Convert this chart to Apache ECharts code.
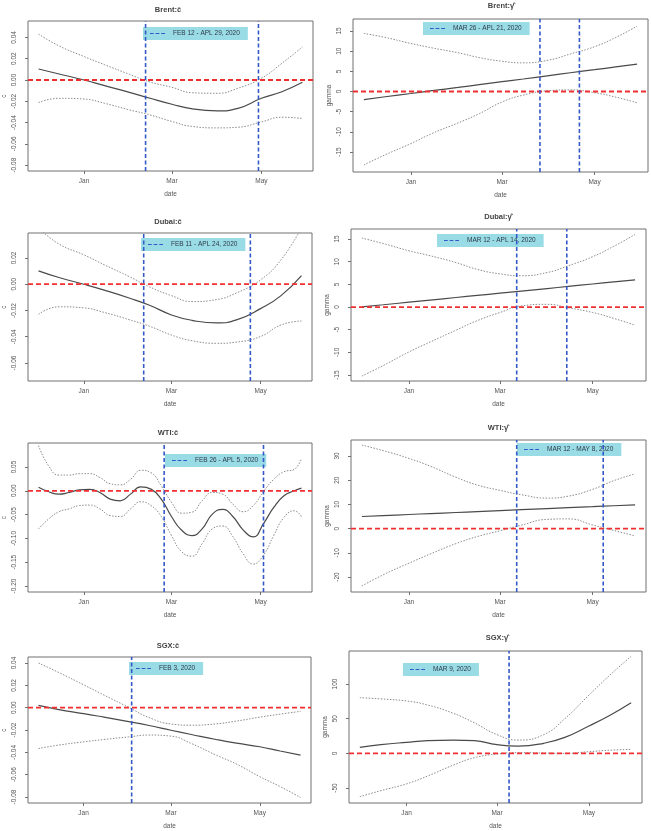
<!DOCTYPE html>
<html>
<head>
<meta charset="utf-8">
<script src="https://cdn.jsdelivr.net/npm/echarts@6/dist/echarts.min.js"></script>
<style>
  html, body { margin: 0; padding: 0; background: #fff; }
  #chart { width: 651px; height: 831px; }
</style>
</head>
<body>
<div id="chart"></div>
<script>
// x values are days counted from 1 Jan 2020
var days = [-31, -17, 0, 14, 31, 45, 60, 74, 91, 105, 121, 135, 149]
var wtiDays = [-31, -24, -17, -10, -3, 4, 11, 18, 25, 32, 39, 46, 53, 60, 67, 74, 81, 88, 95, 102, 109, 116, 123, 130, 137, 144, 149]
var tickDays = [0, 60, 121]
var tickNames = ['Jan', 'Mar', 'May']

// Brent
var brentCMean = [0.0103, 0.0056, 0.0, -0.0053, -0.0116, -0.0172, -0.0228, -0.0272, -0.029, -0.0266, -0.0172, -0.011, -0.0022]
var brentCUpper = [0.043, 0.032, 0.022, 0.0144, 0.0053, -0.0019, -0.0069, -0.012, -0.0125, -0.0078, 0.0016, 0.0157, 0.031]
var brentCLower = [-0.0212, -0.0172, -0.0179, -0.0219, -0.0281, -0.0328, -0.039, -0.0437, -0.045, -0.0444, -0.0394, -0.035, -0.0362]
var brentGMean = [-2.0, -1.3, -0.5, 0.2, 1.0, 1.7, 2.45, 3.1, 3.95, 4.65, 5.4, 6.1, 6.8]
var brentGUpper = [14.4, 13.4, 11.9, 10.8, 9.6, 8.4, 7.5, 7.1, 7.8, 9.3, 11.1, 13.4, 16.2]
var brentGLower = [-18.2, -15.7, -12.9, -10.4, -7.8, -5.5, -2.6, -0.9, 0.2, 0.4, -0.3, -1.4, -2.8]

// Dubai
var dubaiCMean = [0.0102, 0.0051, 0, -0.0045, -0.0105, -0.016, -0.0234, -0.0275, -0.0295, -0.027, -0.0186, -0.0087, 0.0065]
var dubaiCUpper = [0.043, 0.0306, 0.0224, 0.0148, 0.0059, -0.002, -0.0087, -0.0132, -0.0117, -0.0064, 0.0033, 0.0186, 0.043]
var dubaiCLower = [-0.0229, -0.0172, -0.018, -0.0215, -0.027, -0.032, -0.0387, -0.043, -0.045, -0.044, -0.0398, -0.031, -0.028]
var dubaiGMean = [0.05, 0.5, 1.07, 1.53, 2.1, 2.56, 3.05, 3.52, 4.08, 4.54, 5.08, 5.54, 6.0]
var dubaiGUpper = [15.2, 14.0, 12.4, 11.3, 9.8, 8.3, 7.3, 6.9, 7.6, 9.1, 11.1, 13.4, 16.0]
var dubaiGLower = [-15.2, -12.9, -9.9, -7.7, -5.1, -3.0, -1.2, 0.25, 0.6, -0.15, -1.2, -2.5, -4.0]

// WTI
var wtiCMean = [0.0076, -0.002, -0.007, -0.0035, 0.002, 0.0028, -0.0035, -0.0174, -0.021, -0.007, 0.0083, 0.0035, -0.0174, -0.054, -0.083, -0.094, -0.08, -0.049, -0.039, -0.054, -0.082, -0.097, -0.069, -0.035, -0.0104, 0.0, 0.0056]
var wtiCUpper = [0.095, 0.052, 0.033, 0.033, 0.036, 0.036, 0.028, 0.015, 0.0125, 0.024, 0.043, 0.038, 0.0104, -0.024, -0.047, -0.045, -0.021, -0.0035, -0.007, -0.028, -0.044, -0.031, -0.0014, 0.024, 0.04, 0.045, 0.068]
var wtiCLower = [-0.08, -0.059, -0.044, -0.038, -0.031, -0.03, -0.038, -0.052, -0.054, -0.038, -0.023, -0.031, -0.054, -0.094, -0.128, -0.1375, -0.111, -0.08, -0.074, -0.096, -0.132, -0.154, -0.135, -0.094, -0.056, -0.042, -0.054]
var wtiGMean = [5.0, 5.37, 5.83, 6.2, 6.65, 7.03, 7.43, 7.8, 8.25, 8.63, 9.05, 9.43, 9.8]
var wtiGUpper = [34.5, 32.2, 29, 25.8, 21.2, 18.0, 15.8, 14.0, 12.6, 13.4, 16.2, 19.8, 22.6]
var wtiGLower = [-23.7, -19.1, -14.3, -10.5, -6.2, -3.3, -0.9, 1.4, 3.8, 4.0, 1.5, -0.8, -3.0]

// SGX
var sgxCMean = [0.002, -0.0017, -0.0053, -0.0085, -0.0125, -0.016, -0.0202, -0.024, -0.0285, -0.0318, -0.035, -0.0388, -0.0425]
var sgxCUpper = [0.04, 0.0315, 0.0205, 0.0113, 0.0003, -0.0089, -0.0146, -0.0157, -0.0145, -0.012, -0.0085, -0.0058, -0.0033]
var sgxCLower = [-0.0366, -0.0335, -0.0306, -0.0285, -0.0262, -0.0245, -0.0255, -0.0321, -0.0425, -0.0505, -0.0618, -0.0707, -0.0805]
var sgxGMean = [8.7, 12.5, 15.9, 18.3, 19.2, 18.3, 12.5, 10.5, 14.5, 23, 39.4, 55, 73]
var sgxGUpper = [80.3, 78.5, 75.5, 69.7, 57.7, 44, 27, 19.2, 27, 50, 84, 113, 140]
var sgxGLower = [-62.5, -53.8, -44, -32.7, -17, -6.3, -1, 1, 0.5, 0, 2.4, 4.5, 5.8]

// break dates (vertical lines)
var brentCBreaks = [42, 119]
var brentGBreaks = [85, 111]
var dubaiCBreaks = [41, 114]
var dubaiGBreaks = [71, 104]
var wtiCBreaks = [55, 123]
var wtiGBreaks = [71, 128]
var sgxCBreaks = [33]
var sgxGBreaks = [68]

var cTicks = [-0.08, -0.06, -0.04, -0.02, 0, 0.02, 0.04]
var dubaiCTicks = [-0.06, -0.04, -0.02, 0, 0.02]
var wtiCTicks = [-0.2, -0.15, -0.1, -0.05, 0, 0.05]
var gTicks15 = [-15, -10, -5, 0, 5, 10, 15]
var wtiGTicks = [-20, -10, 0, 10, 20, 30]
var sgxGTicks = [-50, 0, 50, 100]

var panels = [
  { title: 'Brent:ĉ', yName: 'c', x: days, mean: brentCMean, upper: brentCUpper, lower: brentCLower, ticks: cTicks, dec: 2, breaks: brentCBreaks, label: 'FEB 12 - APL 29, 2020' },
  { title: 'Brent:γ̂', yName: 'gamma', x: days, mean: brentGMean, upper: brentGUpper, lower: brentGLower, ticks: gTicks15, dec: 0, breaks: brentGBreaks, label: 'MAR 26 - APL 21, 2020' },
  { title: 'Dubai:ĉ', yName: 'c', x: days, mean: dubaiCMean, upper: dubaiCUpper, lower: dubaiCLower, ticks: dubaiCTicks, dec: 2, breaks: dubaiCBreaks, label: 'FEB 11 - APL 24, 2020' },
  { title: 'Dubai:γ̂', yName: 'gamma', x: days, mean: dubaiGMean, upper: dubaiGUpper, lower: dubaiGLower, ticks: gTicks15, dec: 0, breaks: dubaiGBreaks, label: 'MAR 12 - APL 14, 2020' },
  { title: 'WTI:ĉ', yName: 'c', x: wtiDays, mean: wtiCMean, upper: wtiCUpper, lower: wtiCLower, ticks: wtiCTicks, dec: 2, breaks: wtiCBreaks, label: 'FEB 26 - APL 5, 2020' },
  { title: 'WTI:γ̂', yName: 'gamma', x: days, mean: wtiGMean, upper: wtiGUpper, lower: wtiGLower, ticks: wtiGTicks, dec: 0, breaks: wtiGBreaks, label: 'MAR 12 - MAY 8, 2020' },
  { title: 'SGX:ĉ', yName: 'c', x: days, mean: sgxCMean, upper: sgxCUpper, lower: sgxCLower, ticks: cTicks, dec: 2, breaks: sgxCBreaks, label: 'FEB 3, 2020' },
  { title: 'SGX:γ̂', yName: 'gamma', x: days, mean: sgxGMean, upper: sgxGUpper, lower: sgxGLower, ticks: sgxGTicks, dec: 0, breaks: sgxGBreaks, label: 'MAR 9, 2020' }
]

// plot boxes, axis ranges, legend and title spots, in page pixels
var X_RANGE = [-38.2, 156.2]
var layout = [
  { grid: [23, 21, 290, 150], y: [-0.0855, 0.0554], legend: [143, 27], title: [168, 10] },
  { grid: [353, 19, 295, 153], y: [-19.96, 17.97], legend: [423, 22], title: [501, 6] },
  { grid: [25, 233, 287, 148], y: [-0.0737, 0.039], legend: [141, 238], title: [168, 222] },
  { grid: [351, 229, 295, 152], y: [-16.3, 17.2], legend: [437, 234], title: [498, 217] },
  { grid: [25, 443, 287, 149], y: [-0.2126, 0.1004], legend: [165, 454], title: [168, 433] },
  { grid: [351, 440, 295, 152], y: [-26.2, 36.6], legend: [517, 443], title: [498, 428] },
  { grid: [26, 657, 285, 146], y: [-0.0854, 0.0454], legend: [129, 662], title: [168, 646] },
  { grid: [349, 651, 293, 152], y: [-71.6, 147.6], legend: [403, 663], title: [497, 638] }
]

var FONT = 'Liberation Sans, Arial, sans-serif'
var FRAME = '#707070'
var BLUE = '#3558c8'
var RED = '#f03030'
var DASH_ICON = 'path://M0 0H4V1H0Z M6 0H10V1H6Z M12 0H16V1H12Z'

function pairs (xs, ys) {
  return xs.map(function (x, k) { return [x, ys[k]] })
}

// one plain line series, colour pinned so nothing falls back to the palette
function lineSeries (i, data, color, dash, width, z, name) {
  var s = {
    type: 'line',
    xAxisIndex: i,
    yAxisIndex: i,
    data: data,
    color: color,
    symbol: 'none',
    showSymbol: false,
    silent: true,
    legendHoverLink: false,
    z: z,
    itemStyle: { color: color },
    lineStyle: { color: color, width: width, type: dash || 'solid', opacity: 1 },
    emphasis: { disabled: true }
  }
  if (name) s.name = name
  return s
}

var option = {
  animation: false,
  backgroundColor: '#ffffff',
  textStyle: { fontFamily: FONT },
  title: [],
  legend: [],
  grid: [],
  xAxis: [],
  yAxis: [],
  series: []
}

panels.forEach(function (p, i) {
  var L = layout[i]
  option.title.push({
    text: p.title,
    left: L.title[0],
    top: L.title[1] - 4,
    textAlign: 'center',
    padding: 0,
    textStyle: { fontSize: 7.5, fontWeight: 'bold', color: '#444', fontFamily: FONT }
  })
  option.legend.push({
    data: [{ name: p.label, icon: DASH_ICON, itemStyle: { color: BLUE } }],
    left: L.legend[0],
    top: L.legend[1],
    selectedMode: false,
    backgroundColor: '#9adce5',
    padding: [3, 8, 3, 7],
    itemWidth: 15,
    itemHeight: 1.5,
    itemGap: 0,
    textStyle: { fontSize: 6.5, color: '#2d3a4a', fontFamily: FONT, padding: [0, 0, 0, 3] }
  })
  option.grid.push({
    left: L.grid[0],
    top: L.grid[1],
    width: L.grid[2],
    height: L.grid[3],
    show: true,
    borderColor: FRAME,
    borderWidth: 1,
    backgroundColor: 'transparent'
  })
  option.xAxis.push({
    type: 'value',
    gridIndex: i,
    min: X_RANGE[0],
    max: X_RANGE[1],
    name: 'date',
    nameLocation: 'middle',
    nameGap: 20,
    nameTextStyle: { fontSize: 6.5, color: '#555' },
    splitLine: { show: false },
    axisLine: { show: false, onZero: false },
    axisTick: { show: true, length: 3, customValues: tickDays, lineStyle: { color: FRAME } },
    axisLabel: {
      customValues: tickDays,
      fontSize: 6.5,
      color: '#555',
      margin: 7,
      formatter: function (v) { return tickNames[tickDays.indexOf(v)] }
    }
  })
  option.yAxis.push({
    type: 'value',
    gridIndex: i,
    min: L.y[0],
    max: L.y[1],
    name: p.yName,
    nameLocation: 'middle',
    nameGap: 20,
    nameTextStyle: { fontSize: 6.5, color: '#555' },
    splitLine: { show: false },
    axisLine: { show: false, onZero: false },
    axisTick: { show: true, length: 3, customValues: p.ticks, lineStyle: { color: FRAME } },
    axisLabel: {
      customValues: p.ticks,
      rotate: 90,
      fontSize: 6.5,
      color: '#555',
      margin: 10,
      formatter: function (v) { return v.toFixed(p.dec) }
    }
  })

  // fitted curve and its confidence band
  var mean = lineSeries(i, pairs(p.x, p.mean), '#4a4a4a', null, 1.2, 3)
  mean.smooth = true
  option.series.push(mean)
  ;[p.upper, p.lower].forEach(function (band) {
    var s = lineSeries(i, pairs(p.x, band), '#8c8c8c', [1.5, 1.5], 1, 3)
    s.smooth = true
    option.series.push(s)
  })

  // zero reference across the whole box
  option.series.push(lineSeries(i, [[X_RANGE[0], 0], [X_RANGE[1], 0]], RED, [5, 3], 1.8, 4))

  // break dates as vertical dashed lines
  p.breaks.forEach(function (d) {
    option.series.push(lineSeries(i, [[d, L.y[0]], [d, L.y[1]]], BLUE, [4, 2.5], 1.6, 5, p.label))
  })
})

var chart = echarts.init(document.getElementById('chart'), null, { renderer: 'canvas' })
chart.setOption(option)
</script>
</body>
</html>
